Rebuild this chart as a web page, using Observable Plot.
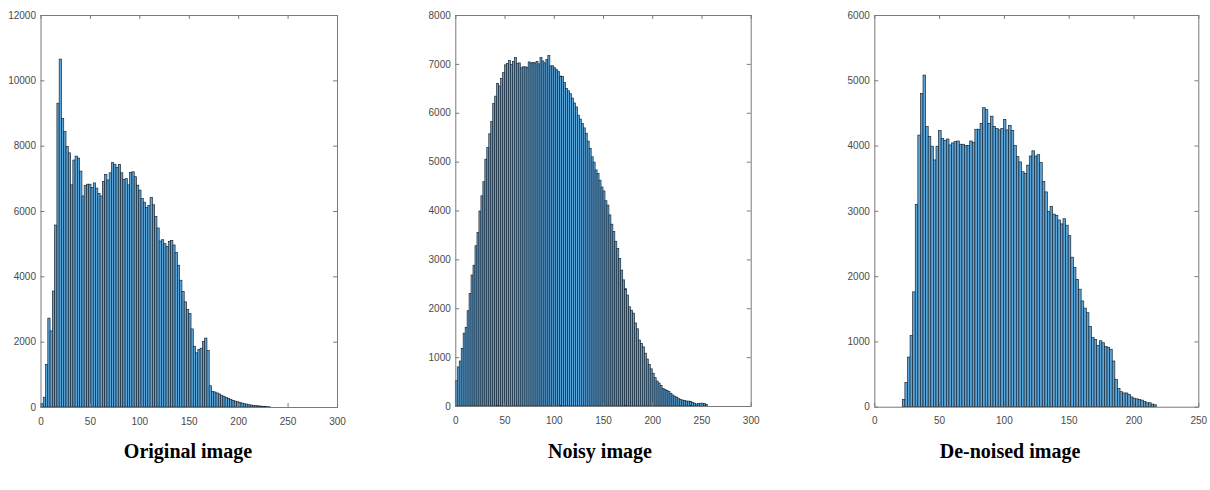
<!DOCTYPE html>
<html>
<head>
<meta charset="utf-8">
<script src="https://cdn.jsdelivr.net/npm/d3@7"></script>
<script src="https://cdn.jsdelivr.net/npm/@observablehq/plot@0.6"></script>
<style>
  html, body { margin: 0; padding: 0; background: #fff; }
  #wrap { position: relative; width: 1210px; height: 490px; overflow: hidden; }
  .panel { position: absolute; top: 0; }
  .title { position: absolute; top: 440px; font-family: "Liberation Serif", "Times New Roman", serif; font-weight: bold; font-size: 20px; color: #000; transform: translateX(-50%); white-space: nowrap; }
</style>
</head>
<body>
<div id="wrap"></div>
<script>
// ---------- Data ----------
const titles = ["Original image", "Noisy image", "De-noised image"];

// Panel 1: Original image histogram
const origStart = 0.5;
const origWidth = 2.3;
const origCounts = [
  100, 300, 1300, 2720, 2330, 3550, 5570, 9300, 10650, 8830,
  8430, 7970, 7780, 6800, 7560, 7680, 7620, 7220, 6460, 6780,
  6820, 6820, 6720, 6860, 6700, 6540, 6460, 6900, 7120, 6950,
  7170, 7480, 7430, 7330, 7420, 7170, 6970, 6990, 6800, 7180,
  7200, 7050, 6790, 6640, 6380, 6270, 6110, 6170, 6410, 6190,
  5830, 5480, 5080, 5120, 5000, 4910, 5070, 5100, 4960, 4730,
  4340, 3880, 3540, 3220, 2990, 2860, 2390, 1860, 1660, 1760,
  1800, 2010, 2110, 1730, 650, 480, 460, 430, 400, 360,
  320, 290, 260, 230, 200, 180, 160, 140, 120, 100,
  90, 70, 60, 50, 40, 35, 30, 20, 15, 10, 5
];
const origXTicks = [0, 50, 100, 150, 200, 250, 300];
const origYTicks = [0, 2000, 4000, 6000, 8000, 10000, 12000];

// Panel 2: Noisy image histogram
const noisyStart = 0;
const noisyWidth = 2;
const noisyCounts = [
  520, 800, 920, 1180, 1490, 1610, 1950, 2300, 2680, 2880,
  3280, 3550, 3990, 4300, 4590, 5050, 5290, 5570, 5820, 6190,
  6340, 6600, 6550, 6700, 6820, 6980, 7010, 7070, 6990, 7050,
  7130, 7010, 7020, 6920, 6940, 6940, 6930, 7040, 7020, 7030,
  7020, 7050, 7000, 7130, 7060, 7020, 7090, 7170, 6960, 6960,
  6920, 6880, 6840, 6750, 6740, 6620, 6500, 6450, 6390, 6300,
  6200, 6120, 5950, 5870, 5780, 5690, 5580, 5420, 5270, 5100,
  4990, 4830, 4760, 4620, 4480, 4400, 4200, 4110, 3910, 3720,
  3570, 3370, 3220, 3020, 2780, 2580, 2400, 2270, 2030, 1960,
  1900, 1700, 1580, 1350, 1280, 1210, 1080, 960, 850, 760,
  670, 580, 510, 470, 420, 360, 340, 320, 300, 260,
  225, 200, 180, 150, 130, 120, 110, 100, 100, 90,
  75, 60, 40, 50, 55, 55, 50, 30
];
const noisyXTicks = [0, 50, 100, 150, 200, 250, 300];
const noisyYTicks = [0, 1000, 2000, 3000, 4000, 5000, 6000, 7000, 8000];

// Panel 3: De-noised image histogram
const denoisedStart = 21.6;
const denoisedWidth = 2;
const denoisedCounts = [
  110, 370, 760, 1090, 1760, 3100, 4160, 4800, 5080, 4290,
  4140, 3990, 3780, 3990, 4230, 4110, 4080, 4100, 4010, 4040,
  4060, 4070, 4020, 4020, 4000, 4000, 4070, 4050, 4250, 4250,
  4340, 4580, 4550, 4340, 4450, 4290, 4260, 4240, 4260, 4400,
  4240, 4310, 4230, 4000, 3830, 3750, 3600, 3570, 3700, 3840,
  3920, 3840, 3860, 3740, 3450, 3290, 2990, 3070, 2950, 2930,
  2860, 2800, 2880, 2780, 2620, 2290, 2130, 1950, 1800, 1620,
  1510, 1440, 1230, 1060, 1030, 940, 1010, 980, 920, 910,
  880, 700, 420, 280, 230, 210, 210, 190, 150, 130,
  120, 110, 100, 80, 60, 60, 40, 30
];
const denoisedXTicks = [0, 50, 100, 150, 200, 250];
const denoisedYTicks = [0, 1000, 2000, 3000, 4000, 5000, 6000];

// ---------- Drawing ----------
function bins(start, width, counts) {
  return counts.map((c, i) => ({x1: start + i * width, x2: start + (i + 1) * width, y: c}));
}

const AXIS = "#7a7a7a";
const LABEL = "#4a4a4a";

function histPanel({data, xDomain, yDomain, xTicks, yTicks, left, width, height, ml, mr, mt, mb}) {
  const xr = xDomain[1] - xDomain[0];
  const yr = yDomain[1] - yDomain[0];
  const plotH = height - mt - mb;
  const plotW = width - ml - mr;
  const tickLen = 3.9;
  const ty = tickLen / plotH * yr;
  const tx = tickLen / plotW * xr;
  const svg = Plot.plot({
    width, height,
    marginLeft: ml, marginRight: mr, marginTop: mt, marginBottom: mb,
    style: {fontFamily: "'Liberation Sans', Arial, sans-serif", fontSize: "10px", color: LABEL, background: "transparent"},
    x: {domain: xDomain, label: null},
    y: {domain: yDomain, label: null},
    marks: [
      Plot.rectY(data, {x1: "x1", x2: "x2", y: "y", fill: "#5aa5da", stroke: "#1b2733", strokeWidth: 0.7, inset: 0}),
      // inward ticks on all four sides (MATLAB style)
      Plot.ruleX(xTicks, {x: d => d, y1: yDomain[0], y2: yDomain[0] + ty, stroke: AXIS}),
      Plot.ruleX(xTicks, {x: d => d, y1: yDomain[1], y2: yDomain[1] - ty, stroke: AXIS}),
      Plot.ruleY(yTicks, {y: d => d, x1: xDomain[0], x2: xDomain[0] + tx, stroke: AXIS}),
      Plot.ruleY(yTicks, {y: d => d, x1: xDomain[1], x2: xDomain[1] - tx, stroke: AXIS}),
      Plot.frame({stroke: AXIS, strokeWidth: 1}),
      Plot.axisX({ticks: xTicks, tickSize: 0, tickPadding: 10, tickFormat: d => String(d), fill: LABEL, label: null}),
      Plot.axisY({ticks: yTicks, tickSize: 0, tickPadding: 5, tickFormat: d => String(d), fill: LABEL, label: null})
    ]
  });
  svg.classList.add("panel");
  svg.style.left = left + "px";
  return svg;
}

const wrap = document.getElementById("wrap");

wrap.appendChild(histPanel({
  data: bins(origStart, origWidth, origCounts),
  xDomain: [0, 300], yDomain: [0, 12000],
  xTicks: origXTicks, yTicks: origYTicks,
  left: 0, width: 350, height: 430, ml: 40.5, mr: 13, mt: 15, mb: 23
}));

wrap.appendChild(histPanel({
  data: bins(noisyStart, noisyWidth, noisyCounts),
  xDomain: [0, 300], yDomain: [0, 8000],
  xTicks: noisyXTicks, yTicks: noisyYTicks,
  left: 410, width: 360, height: 430, ml: 45.3, mr: 19.3, mt: 15, mb: 24
}));

wrap.appendChild(histPanel({
  data: bins(denoisedStart, denoisedWidth, denoisedCounts),
  xDomain: [0, 250], yDomain: [0, 6000],
  xTicks: denoisedXTicks, yTicks: denoisedYTicks,
  left: 830, width: 380, height: 430, ml: 44.3, mr: 11.7, mt: 15, mb: 23.3
}));

const titleX = [188, 600, 1010];
titles.forEach((t, i) => {
  const d = document.createElement("div");
  d.className = "title";
  d.textContent = t;
  d.style.left = titleX[i] + "px";
  wrap.appendChild(d);
});
</script>
</body>
</html>
